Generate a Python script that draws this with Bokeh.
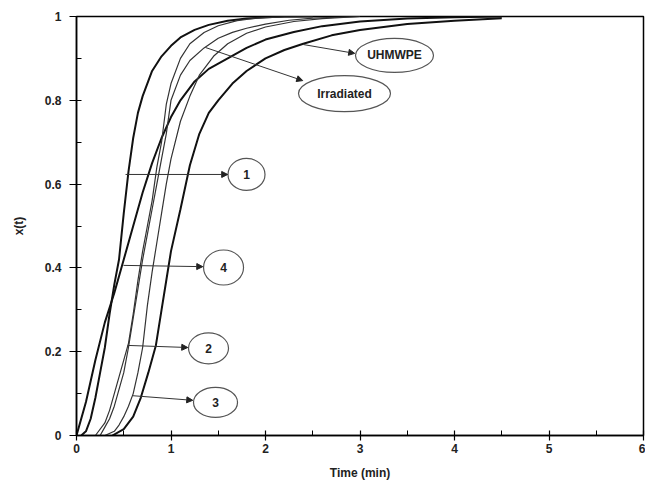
from bokeh.plotting import figure
from bokeh.models import (Range1d, FixedTicker, CustomJSTickFormatter, Arrow, NormalHead,
                          ColumnDataSource)
from bokeh.core.properties import value
from bokeh.embed import file_html
from bokeh.resources import INLINE

# ---- data ----
t_c1 = [0.05, 0.1, 0.15, 0.2, 0.25, 0.3, 0.35, 0.4, 0.45, 0.5, 0.55, 0.6, 0.65, 0.7, 0.8, 0.9, 1.0, 1.1, 1.25, 1.4, 1.6, 1.8, 2.0, 2.2, 2.5]
x_c1 = [0.0, 0.01, 0.04, 0.09, 0.15, 0.21, 0.29, 0.36, 0.42, 0.53, 0.63, 0.71, 0.77, 0.81, 0.87, 0.905, 0.93, 0.95, 0.968, 0.98, 0.99, 0.995, 0.998, 1.0, 1.0]

t_c4 = [0.0, 0.1, 0.2, 0.3, 0.4, 0.5, 0.6, 0.7, 0.8, 0.9, 1.0, 1.1, 1.25, 1.4, 1.6, 1.8, 2.0, 2.3, 2.6, 3.0, 3.5, 4.0, 4.5]
x_c4 = [0.0, 0.08, 0.18, 0.27, 0.34, 0.42, 0.5, 0.58, 0.65, 0.71, 0.76, 0.8, 0.845, 0.875, 0.9, 0.925, 0.945, 0.963, 0.977, 0.988, 0.995, 0.998, 1.0]

t_c2 = [0.2, 0.3, 0.35, 0.4, 0.45, 0.5, 0.55, 0.6, 0.65, 0.7, 0.75, 0.8, 0.85, 0.9, 0.95, 1.0, 1.1, 1.2, 1.35, 1.5, 1.7, 1.9, 2.2, 2.5]
x_c2 = [0.0, 0.03, 0.06, 0.1, 0.14, 0.18, 0.22, 0.29, 0.37, 0.44, 0.5, 0.56, 0.64, 0.7, 0.79, 0.84, 0.9, 0.935, 0.962, 0.978, 0.99, 0.996, 0.999, 1.0]

t_irr = [0.25, 0.3, 0.35, 0.4, 0.45, 0.5, 0.55, 0.6, 0.65, 0.7, 0.75, 0.8, 0.85, 0.9, 0.95, 1.0, 1.1, 1.2, 1.35, 1.5, 1.65, 1.8, 2.0, 2.25, 2.5, 3.0]
x_irr = [0.0, 0.02, 0.04, 0.07, 0.11, 0.15, 0.21, 0.28, 0.35, 0.42, 0.48, 0.54, 0.6, 0.66, 0.72, 0.8, 0.86, 0.895, 0.925, 0.948, 0.962, 0.972, 0.982, 0.991, 0.996, 1.0]

t_c3 = [0.3, 0.4, 0.45, 0.5, 0.55, 0.6, 0.65, 0.7, 0.75, 0.8, 0.85, 0.9, 0.95, 1.0, 1.1, 1.2, 1.3, 1.45, 1.6, 1.8, 2.0, 2.3, 2.6, 3.0]
x_c3 = [0.0, 0.01, 0.025, 0.045, 0.07, 0.1, 0.15, 0.21, 0.31, 0.39, 0.46, 0.53, 0.6, 0.66, 0.75, 0.81, 0.86, 0.905, 0.935, 0.96, 0.975, 0.988, 0.995, 1.0]

t_uh = [0.38, 0.5, 0.6, 0.68, 0.76, 0.84, 0.9, 0.95, 1.0, 1.1, 1.2, 1.3, 1.4, 1.5, 1.65, 1.8, 2.0, 2.2, 2.4, 2.7, 3.0, 3.5, 4.0, 4.5]
x_uh = [0.0, 0.015, 0.045, 0.09, 0.15, 0.215, 0.3, 0.37, 0.44, 0.54, 0.645, 0.72, 0.77, 0.8, 0.84, 0.87, 0.9, 0.92, 0.935, 0.955, 0.968, 0.982, 0.99, 0.996]

x_ticks = [0, 1, 2, 3, 4, 5, 6]
x_minor = [0.5, 1.5, 2.5, 3.5, 4.5, 5.5]
y_ticks = [0, 0.2, 0.4, 0.6, 0.8, 1.0]
y_minor = [0.1, 0.3, 0.5, 0.7, 0.9]

# labels: text, ellipse centre (data), arrow start (on curve), arrow end
label_texts = ["1", "4", "2", "3", "UHMWPE", "Irradiated"]
label_cx = [1.799, 1.556, 1.397, 1.471, 3.365, 2.836]
label_cy = [0.623, 0.401, 0.208, 0.079, 0.907, 0.816]
arrow_x0 = [0.519, 0.497, 0.540, 0.593, 2.402, 1.365]
arrow_y0 = [0.623, 0.406, 0.215, 0.095, 0.933, 0.926]
arrow_x1 = [1.600, 1.336, 1.177, 1.230, 2.944, 2.394]
arrow_y1 = [0.623, 0.403, 0.210, 0.084, 0.912, 0.847]

FONT = "Liberation Sans"

p = figure(width=645, height=498, output_backend="svg", toolbar_location=None,
           x_range=Range1d(0, 6), y_range=Range1d(0, 1),
           min_border_left=76, min_border_right=2, min_border_top=16, min_border_bottom=63)
p.background_fill_color = "white"
p.border_fill_color = "white"
p.outline_line_color = "black"
p.outline_line_width = 1.5
p.grid.visible = False

thick = dict(line_color="#111111", line_width=2.0)
thin = dict(line_color="#333333", line_width=1.2)
p.line(t_c1, x_c1, **thick)
p.line(t_c4, x_c4, **thick)
p.line(t_uh, x_uh, **thick)
p.line(t_c2, x_c2, **thin)
p.line(t_irr, x_irr, **thin)
p.line(t_c3, x_c3, **thin)

for x0, y0, x1, y1 in zip(arrow_x0, arrow_y0, arrow_x1, arrow_y1):
    p.add_layout(Arrow(x_start=x0, y_start=y0, x_end=x1, y_end=y1,
                       line_color="#333333", line_width=1,
                       end=NormalHead(size=6, fill_color="#222222", line_color="#222222")))

ew = [37, 40, 40, 44, 78, 92]
eh = [32, 35, 31, 30, 34, 36]
src = ColumnDataSource(dict(x=label_cx, y=label_cy, w=ew, h=eh, t=label_texts))
p.ellipse(x="x", y="y", width="w", height="h", source=src,
          width_units="screen", height_units="screen",
          fill_color="white", line_color="#555555", line_width=1.2)
p.text(x="x", y="y", text="t", source=src, text_align="center", text_baseline="middle",
       text_font=value(FONT), text_font_style="bold", text_font_size="12px", text_color="#222222")

xa = p.xaxis[0]
xa.ticker = FixedTicker(ticks=x_ticks, minor_ticks=x_minor)
xa.axis_label = "Time (min)"
ya = p.yaxis[0]
ya.ticker = FixedTicker(ticks=y_ticks, minor_ticks=y_minor)
ya.formatter = CustomJSTickFormatter(code="return String(Math.round(tick*10)/10);")
ya.axis_label = "x(t)"

for ax in (xa, ya):
    ax.axis_line_width = 1.5
    ax.axis_line_color = "black"
    ax.major_tick_line_color = "black"
    ax.minor_tick_line_color = "black"
    ax.major_tick_line_width = 1.2
    ax.minor_tick_line_width = 1
    ax.major_tick_in = 5
    ax.minor_tick_in = 5
    ax.minor_tick_out = 0
    ax.major_label_text_font = FONT
    ax.major_label_text_font_style = "bold"
    ax.major_label_text_font_size = "12px"
    ax.major_label_text_color = "#222222"
    ax.axis_label_text_font = FONT
    ax.axis_label_text_font_style = "bold"
    ax.axis_label_text_font_size = "12px"
    ax.axis_label_text_color = "#222222"

xa.major_tick_out = 5
xa.major_label_standoff = 3
xa.axis_label_standoff = 10
ya.major_tick_out = 7
ya.major_label_standoff = 8
ya.axis_label_standoff = 16

open("out.html", "w").write(file_html(p, INLINE))
